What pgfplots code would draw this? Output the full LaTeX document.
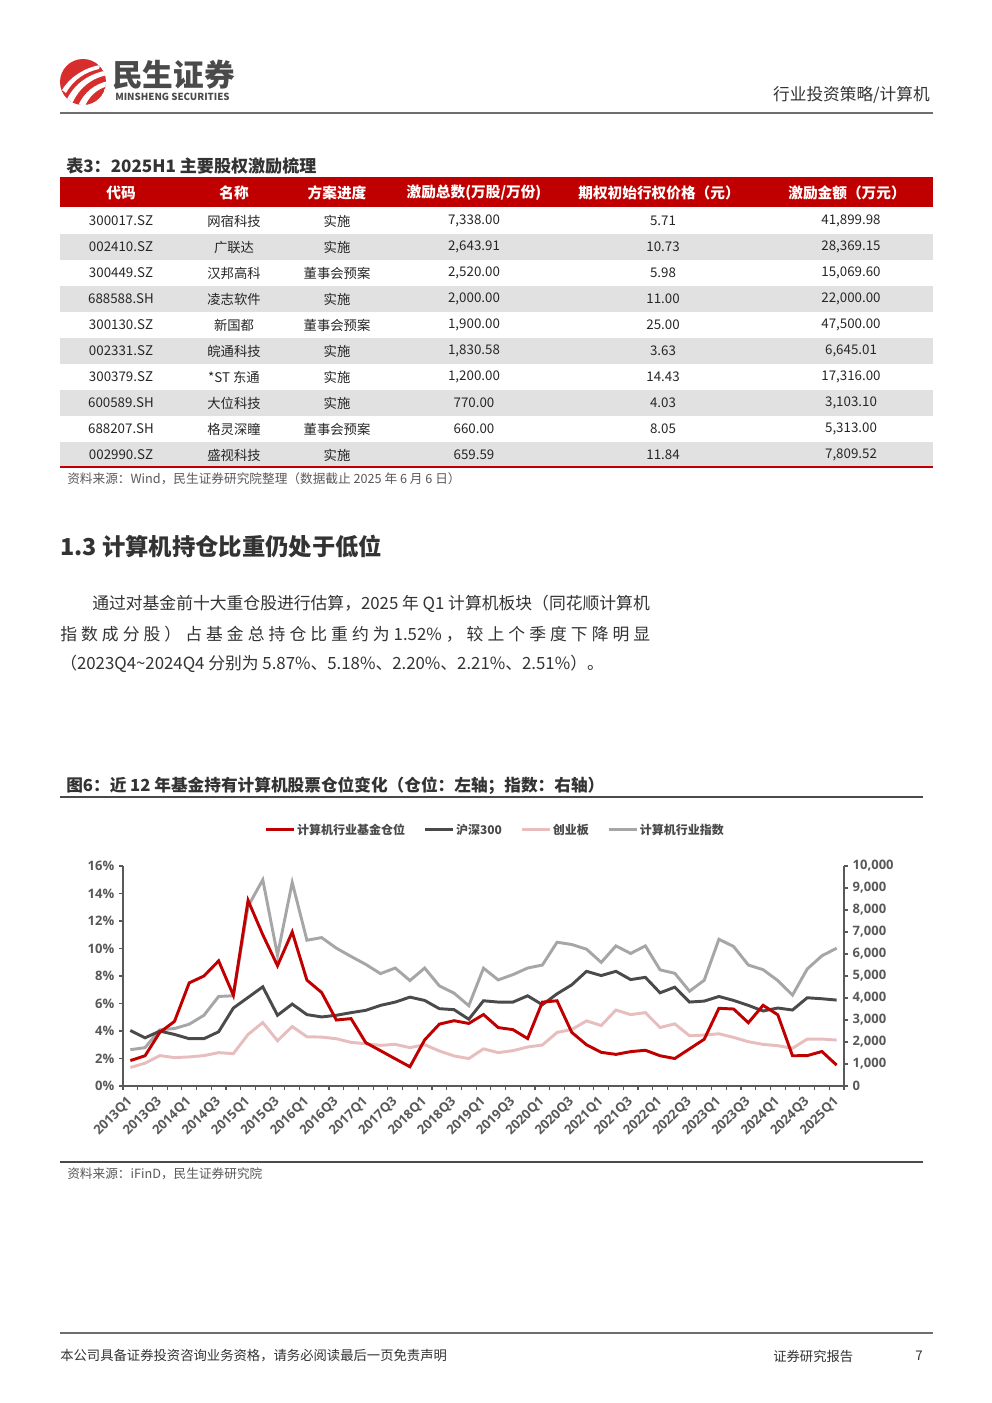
\documentclass[border=0pt]{standalone}
\usepackage{fontspec}
\setmainfont{Noto Sans CJK SC}
\newfontfamily\tickf{Open Sans}
\usepackage{pgfplots}
\pgfplotsset{compat=1.18}
\definecolor{msred}{HTML}{C00000}
\definecolor{logored}{HTML}{D62D2D}
\definecolor{rowgrey}{HTML}{E1E1E1}
\definecolor{txt}{HTML}{333333}
\definecolor{labgrey}{HTML}{595959}
\definecolor{axgrey}{HTML}{6E6E6E}
\definecolor{sdark}{HTML}{4A4A4A}
\definecolor{spink}{HTML}{E8BDBD}
\definecolor{slight}{HTML}{A6A6A6}
\newcommand\fsz[1]{\fontsize{#1}{#1}\selectfont}

\pgfplotstableread{
i v
0 1.85
1 2.2
2 3.9
3 4.7
4 7.5
5 8.0
6 9.1
7 6.6
8 13.5
9 11.0
10 8.75
11 11.2
12 7.7
13 6.8
14 4.8
15 4.9
16 3.15
17 2.57
18 1.98
19 1.4
20 3.35
21 4.5
22 4.75
23 4.55
24 5.2
25 4.25
26 4.1
27 3.45
28 6.1
29 6.2
30 3.9
31 3.0
32 2.45
33 2.3
34 2.5
35 2.6
36 2.2
37 2.0
38 2.7
39 3.4
40 5.65
41 5.6
42 4.6
43 5.87
44 5.18
45 2.20
46 2.21
47 2.51
48 1.52
}\fund

\pgfplotstableread{
i hs cy jsj
0 2525 841 1652
1 2190 1037 1743
2 2495 1382 2554
3 2345 1292 2614
4 2150 1322 2809
5 2150 1382 3215
6 2465 1517 4071
7 3545 1472 4101
8 4025 2344 8173
9 4510 2885 9375
10 3215 2058 5950
11 3725 2704 9255
12 3245 2239 6626
13 3140 2224 6746
14 3215 2149 6265
15 3335 1983 5889
16 3440 1923 5528
17 3665 1848 5108
18 3815 1893 5363
19 4040 1743 4793
20 3890 1878 5363
21 3515 1592 4552
22 3470 1367 4221
23 3035 1247 3651
24 3875 1690 5355
25 3815 1517 4823
26 3815 1607 5063
27 4100 1773 5363
28 3695 1863 5498
29 4190 2434 6536
30 4600 2569 6431
31 5213 2960 6220
32 5020 2750 5619
33 5213 3455 6370
34 4838 3245 6025
35 4940 3335 6370
36 4236 2659 5280
37 4494 2825 5123
38 3816 2284 4311
39 3860 2314 4808
40 4070 2374 6671
41 3890 2209 6340
42 3666 2013 5498
43 3410 1893 5288
44 3545 1833 4793
45 3455 1713 4132
46 4011 2134 5318
47 3966 2134 5919
48 3906 2089 6265
}\idx

\newcommand\trow[7]{%
  \node at (121,{221+26*#1}) {#2};
  \node at (234,{221+26*#1}) {#3};
  \node at (337,{221+26*#1}) {#4};
  \node at (474,{221+26*#1}) {#5};
  \node at (663,{221+26*#1}) {#6};
  \node at (851,{221+26*#1}) {#7};
}

\begin{document}
\begin{tikzpicture}
\begin{scope}[x=0.75pt,y=-0.75pt]
\useasboundingbox (0,0) rectangle (992,1403);
\fill[white] (0,0) rectangle (992,1403);
% logo
\begin{scope}
\clip (83,82) circle (23);
\fill[logored] (83,82) circle (23);
\fill[white] (66,101) .. controls (74,84) and (88,74) .. (108,70) -- (108,75) .. controls (91,78) and (79,88) .. (72,104) -- cycle;
\fill[white] (78,106) .. controls (84,92) and (95,84) .. (108,81) -- (108,86) .. controls (97,89) and (89,96) .. (84,108) -- cycle;
\fill[white] (62,90) .. controls (70,77) and (84,68) .. (100,65) -- (99,69) .. controls (85,72) and (73,80) .. (66,93) -- cycle;
\end{scope}
\node[anchor=west,inner sep=0,text=sdark] at (112,75) {\fsz{23}\bfseries 民生证券};
\node[anchor=west,inner sep=0,text=sdark] at (115,97) {\fsz{7.3}\bfseries MINSHENG SECURITIES};
\node[anchor=east,inner sep=0,text=txt] at (930,95) {\fsz{12.5}行业投资策略/计算机};
\draw[line width=1.5pt,color=axgrey] (60,113) -- (933,113);
% table title
\node[anchor=west,inner sep=0,text=txt] at (66,166) {\fsz{12.8}\bfseries 表3：2025H1 主要股权激励梳理};
\fill[msred] (60,177) rectangle (933,207);
\begin{scope}[every node/.style={inner sep=0,text=white,font=\fsz{11}\bfseries}]
\node at (121,193) {代码};
\node at (234,193) {名称};
\node at (337,193) {方案进度};
\node at (474,193) {激励总数(万股/万份)};
\node at (659,193) {期权初始行权价格（元）};
\node at (847,193) {激励金额（万元）};
\end{scope}
\foreach \k in {1,3,5,7,9} \fill[rowgrey] (60,{208+26*\k}) rectangle (933,{234+26*\k});
\draw[msred,line width=1.5pt] (60,467) -- (933,467);
\begin{scope}[every node/.style={inner sep=0,text=black!85,font=\fsz{10}}]
\trow{0}{300017.SZ}{网宿科技}{实施}{7,338.00}{5.71}{41,899.98}
\trow{1}{002410.SZ}{广联达}{实施}{2,643.91}{10.73}{28,369.15}
\trow{2}{300449.SZ}{汉邦高科}{董事会预案}{2,520.00}{5.98}{15,069.60}
\trow{3}{688588.SH}{凌志软件}{实施}{2,000.00}{11.00}{22,000.00}
\trow{4}{300130.SZ}{新国都}{董事会预案}{1,900.00}{25.00}{47,500.00}
\trow{5}{002331.SZ}{皖通科技}{实施}{1,830.58}{3.63}{6,645.01}
\trow{6}{300379.SZ}{*ST 东通}{实施}{1,200.00}{14.43}{17,316.00}
\trow{7}{600589.SH}{大位科技}{实施}{770.00}{4.03}{3,103.10}
\trow{8}{688207.SH}{格灵深瞳}{董事会预案}{660.00}{8.05}{5,313.00}
\trow{9}{002990.SZ}{盛视科技}{实施}{659.59}{11.84}{7,809.52}
\end{scope}
\node[anchor=west,inner sep=0,text=labgrey] at (67,479) {\fsz{9.5}资料来源：Wind，民生证券研究院整理（数据截止 2025 年 6 月 6 日）};
% section
\node[anchor=west,inner sep=0,text=txt] at (60,546) {\fsz{17.5}\bfseries 1.3 计算机持仓比重仍处于低位};
\node[anchor=west,inner sep=0,text=txt] at (92,604) {\fsz{12.6}通过对基金前十大重仓股进行估算，2025 年 Q1 计算机板块（同花顺计算机};
\node[anchor=west,inner sep=0,text=txt] at (60,634) {\fsz{12.6}\makebox[442.5pt][s]{指 数 成 分 股 ） 占 基 金 总 持 仓 比 重 约 为 1.52\% ， 较 上 个 季 度 下 降 明 显}};
\node[anchor=west,inner sep=0,text=txt] at (60,664) {\fsz{12.6}（2023Q4\textasciitilde 2024Q4 分别为 5.87\%、5.18\%、2.20\%、2.21\%、2.51\%）。};
% figure title
\node[anchor=west,inner sep=0,text=txt] at (66,786) {\fsz{12.5}\bfseries 图6：近 12 年基金持有计算机股票仓位变化（仓位：左轴；指数：右轴）};
\draw[line width=1.2pt,color=sdark] (60,797) -- (923,797);
\draw[line width=1.2pt,color=sdark] (60,1162) -- (923,1162);
\node[anchor=west,inner sep=0,text=labgrey] at (67,1174) {\fsz{9.5}资料来源：iFinD，民生证券研究院};
% footer
\draw[line width=1pt,color=axgrey] (60,1333) -- (933,1333);
\node[anchor=west,inner sep=0,text=txt] at (60,1356) {\fsz{10}本公司具备证券投资咨询业务资格，请务必阅读最后一页免责声明};
\node[anchor=west,inner sep=0,text=txt] at (773,1356) {\fsz{10}证券研究报告};
\node[anchor=center,inner sep=0,text=txt] at (919,1356) {\fsz{10}7};
\end{scope}

% right axis (indices)
\begin{axis}[at={(92.25pt,-814.5pt)}, anchor=south west, scale only axis,
  width=540.75pt, height=165pt,
  xmin=-0.5, xmax=48.5, ymin=0, ymax=10000,
  scaled y ticks=false,
  axis y line*=right, axis x line*=bottom,
  axis line style={color=labgrey, line width=0.8pt},
  xtick={0,2,...,48},
  xticklabels={2013Q1,2013Q3,2014Q1,2014Q3,2015Q1,2015Q3,2016Q1,2016Q3,2017Q1,2017Q3,2018Q1,2018Q3,2019Q1,2019Q3,2020Q1,2020Q3,2021Q1,2021Q3,2022Q1,2022Q3,2023Q1,2023Q3,2024Q1,2024Q3,2025Q1},
  minor xtick={-0.5,0.5,...,48.5},
  major x tick style={draw=none},
  minor x tick style={color=labgrey, line width=0.8pt},
  ytick={0,1000,...,10000},
  yticklabels={0,{1,000},{2,000},{3,000},{4,000},{5,000},{6,000},{7,000},{8,000},{9,000},{10,000}},
  y tick style={color=labgrey, line width=0.8pt},
  tick align=outside, major tick length=3pt, minor tick length=3pt,
  x tick label style={rotate=45, anchor=east, font=\tickf\bfseries\fsz{9.8}, text=labgrey, inner sep=1pt, xshift=-4pt, yshift=-5pt},
  y tick label style={font=\tickf\bfseries\fsz{9.75}, text=labgrey},
  clip=false,
]
\addplot[spink, line width=2.2pt] table[x=i,y=cy] {\idx};
\addplot[slight, line width=2.2pt] table[x=i,y=jsj] {\idx};
\addplot[sdark, line width=2.2pt] table[x=i,y=hs] {\idx};
\end{axis}

% left axis (fund position)
\begin{axis}[at={(92.25pt,-814.5pt)}, anchor=south west, scale only axis,
  width=540.75pt, height=165pt,
  xmin=-0.5, xmax=48.5, ymin=0, ymax=16,
  axis y line*=left, axis x line=none,
  axis line style={color=labgrey, line width=0.8pt},
  ytick={0,2,...,16},
  yticklabels={0\%,2\%,4\%,6\%,8\%,10\%,12\%,14\%,16\%},
  y tick style={color=labgrey, line width=0.8pt},
  tick align=outside, major tick length=3pt,
  y tick label style={font=\tickf\bfseries\fsz{9.75}, text=labgrey},
  legend columns=4,
  legend style={at={(0.516,1.164)}, anchor=center, draw=none, fill=none,
    font=\fsz{9}\bfseries, text=sdark,
    /tikz/every even column/.append style={column sep=13pt},
    nodes={inner sep=1pt}},
  legend image code/.code={\draw[#1] (0pt,0pt) -- (21pt,0pt);},
  clip=false,
]
\addplot[msred, line width=2.2pt] table[x=i,y=v] {\fund};
\addlegendentry{计算机行业基金仓位}
\addlegendimage{sdark, line width=2.2pt}
\addlegendentry{沪深300}
\addlegendimage{spink, line width=2.2pt}
\addlegendentry{创业板}
\addlegendimage{slight, line width=2.2pt}
\addlegendentry{计算机行业指数}
\end{axis}
\end{tikzpicture}
\end{document}
